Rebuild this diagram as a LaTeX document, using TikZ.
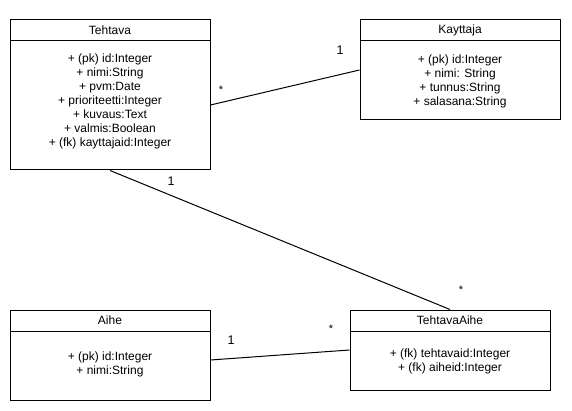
\documentclass[tikz,border=0pt]{standalone}
\usepackage{fontspec}
\setmainfont{Liberation Sans}
\begin{document}
\begin{tikzpicture}[x=1pt,y=-1pt,
  cls/.style={draw=black,line width=1pt,fill=white,inner sep=0pt},
  hdr/.style={font=\fontsize{12}{14}\selectfont,inner sep=0pt},
  attr/.style={font=\fontsize{12}{14}\selectfont,align=center,inner sep=0pt,anchor=north},
  mult/.style={font=\fontsize{12.5}{14}\selectfont,inner sep=0pt},
  star/.style={font=\fontsize{11}{12}\selectfont,inner sep=0pt},
  conn/.style={draw=black,line width=1pt}]
\useasboundingbox (0,0) rectangle (572,411);
% classes
\node[cls,minimum width=200pt,minimum height=150pt] (teh) at (110,95) {};
\node[cls,minimum width=200pt,minimum height=100pt] (kay) at (460,70) {};
\node[cls,minimum width=200pt,minimum height=90pt] (aihe) at (110,355) {};
\node[cls,minimum width=200pt,minimum height=80pt] (ta) at (450,350) {};
% header separators
\draw[line width=1pt] (10,41) -- (210,41);
\draw[line width=1pt] (360,41) -- (560,41);
\draw[line width=1pt] (10,331) -- (210,331);
\draw[line width=1pt] (350,331) -- (550,331);
% headers
\node[hdr] (tehh) at (110,30) {Tehtava};
\node[hdr] (kayh) at (460,30) {Kayttaja};
\node[hdr] (aiheh) at (110,320) {Aihe};
\node[hdr] (tah) at (450,320) {TehtavaAihe};
% attributes
\node[attr] (teha) at (110,54) {+ (pk) id:Integer\\+ nimi:String\\+ pvm:Date\\+ prioriteetti:Integer\\+ kuvaus:Text\\+ valmis:Boolean\\+ (fk) kayttajaid:Integer};
\node[attr] (kaya) at (460,55) {+ (pk) id:Integer\\+ nimi: String\\+ tunnus:String\\+ salasana:String};
\node[attr] (aihea) at (110,352) {+ (pk) id:Integer\\+ nimi:String};
\node[attr] (taa) at (450,349) {+ (fk) tehtavaid:Integer\\+ (fk) aiheid:Integer};
% connectors
\draw[conn] ([yshift=-10pt]teh.east) -- (kay.west);
\draw[conn] (teh.south) -- (ta.north);
\draw[conn] ([yshift=-5pt]aihe.east) -- (ta.west);
% multiplicities
\node[star] (m1) at (221,90) {*};
\node[mult] (m2) at (340,50) {1};
\node[mult] (m3) at (171,181) {1};
\node[star] (m4) at (461,290) {*};
\node[mult] (m5) at (231,340) {1};
\node[star] (m6) at (331,329) {*};
\end{tikzpicture}
\end{document}
